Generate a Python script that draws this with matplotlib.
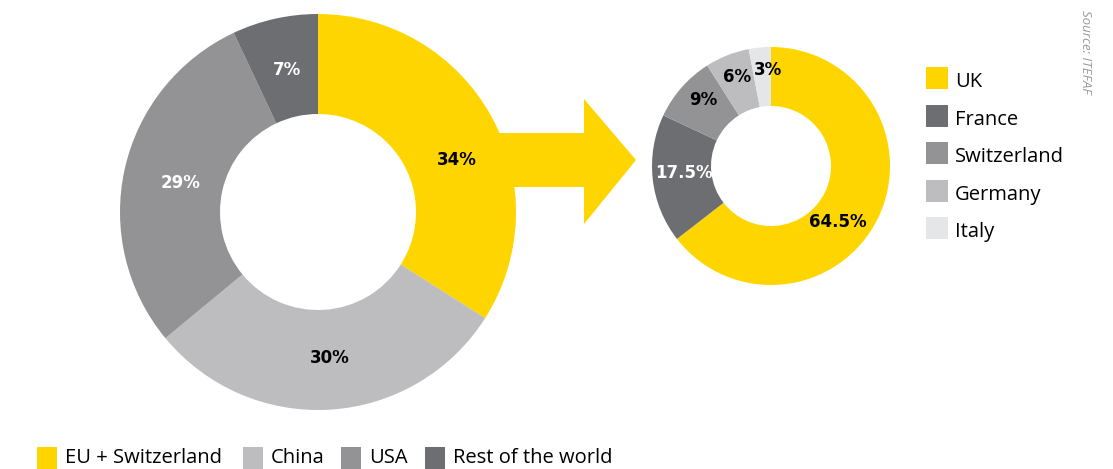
import matplotlib.pyplot as plt
from matplotlib.patches import Polygon, Rectangle

# world market share
world_labels = ["EU + Switzerland", "China", "USA", "Rest of the world"]
world_values = [34, 30, 29, 7]
world_text = ["34%", "30%", "29%", "7%"]

# breakdown of EU + Switzerland
eu_labels = ["UK", "France", "Switzerland", "Germany", "Italy"]
eu_values = [64.5, 17.5, 9, 6, 3]
eu_text = ["64.5%", "17.5%", "9%", "6%", "3%"]

YELLOW = "#FFD500"
world_colors = [YELLOW, "#BDBDBF", "#939396", "#6D6E71"]
eu_colors = [YELLOW, "#6D6E71", "#939396", "#BDBDBF", "#E5E6E7"]
world_txtcol = ["black", "black", "white", "white"]
eu_txtcol = ["black", "white", "black", "black", "black"]

W, H = 1113, 469
plt.rcParams['font.family'] = ['Open Sans', 'DejaVu Sans']
PCT_FONT = dict(family="DejaVu Sans", fontsize=12, fontweight="bold")

fig = plt.figure(figsize=(W / 100, H / 100), dpi=100)
ax = fig.add_axes([0, 0, 1, 1])

def fy(y):
    # picture coords (top-down) to axes coords
    return H - y

# arrow between the donuts (drawn first so the big donut covers its tail)
arrow = [(420, 133), (584, 133), (584, 99), (636, 160), (584, 224), (584, 187), (420, 187)]
ax.add_patch(Polygon([(x, fy(y)) for x, y in arrow], closed=True, fc=YELLOW, ec="none", zorder=1))

ax.pie(world_values, colors=world_colors, startangle=90, counterclock=False,
       center=(318, fy(212)), radius=198, frame=True,
       wedgeprops=dict(width=100, linewidth=0, zorder=2))
ax.pie(eu_values, colors=eu_colors, startangle=90, counterclock=False,
       center=(771, fy(166)), radius=119, frame=True,
       wedgeprops=dict(width=59, linewidth=0, zorder=2))

world_pos = [(457, 160), (330, 358), (181, 183), (287, 70)]
for (x, y), t, c in zip(world_pos, world_text, world_txtcol):
    ax.text(x, fy(y), t, ha="center", va="center", color=c, zorder=5, **PCT_FONT)

eu_pos = [(838, 222), (684, 173), (703, 100), (737, 77), (768, 70)]
for (x, y), t, c in zip(eu_pos, eu_text, eu_txtcol):
    ax.text(x, fy(y), t, ha="center", va="center", color=c, zorder=5, **PCT_FONT)

# right legend
for i, (lab, col) in enumerate(zip(eu_labels, eu_colors)):
    yc = 78 + i * 37.5
    ax.add_patch(Rectangle((926, fy(yc + 11)), 22, 22, fc=col, ec="none"))
    ax.text(955, fy(yc + 4), lab, ha="left", va="center", fontsize=14.5, color="black")

# bottom legend
sq_x = [37, 243, 341, 425]
for x, lab, col in zip(sq_x, world_labels, world_colors):
    ax.add_patch(Rectangle((x, fy(469)), 20, 22, fc=col, ec="none"))
    ax.text(x + 28, fy(458), lab, ha="left", va="center", fontsize=14.5, color="black")

ax.text(1086, fy(10), "Source: ITEFAF", rotation=-90, ha="center", va="top",
        fontsize=9.5, style="italic", color="#999999")

ax.set_xlim(0, W)
ax.set_ylim(0, H)
ax.set_aspect("auto")
ax.axis("off")
fig.savefig("out.png", dpi=100)
